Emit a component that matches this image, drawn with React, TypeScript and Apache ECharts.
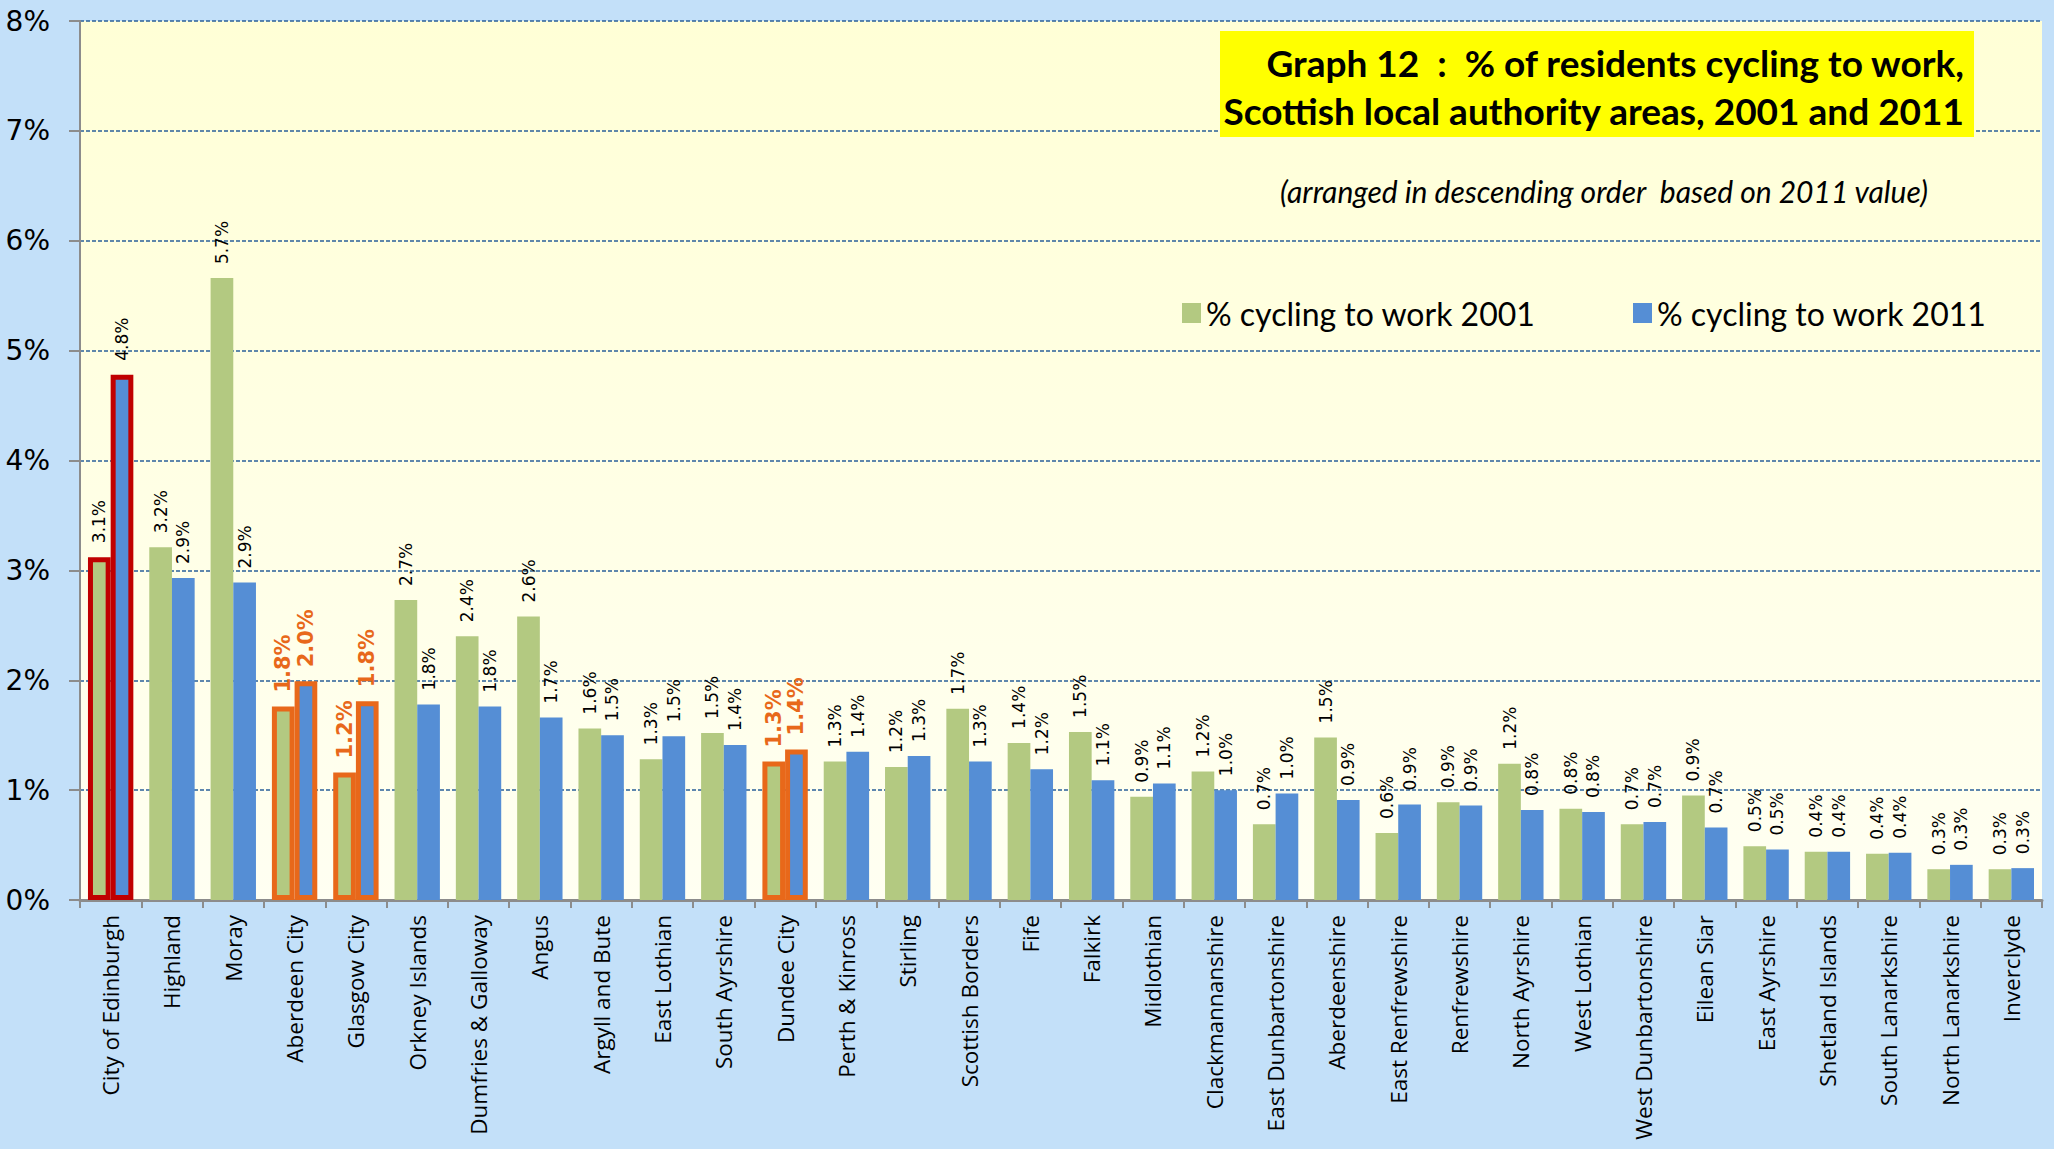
import React, { useEffect, useRef } from "react";
import * as echarts from "echarts";

const categories = [
  "City of Edinburgh", "Highland", "Moray", "Aberdeen City", "Glasgow City", "Orkney Islands",
  "Dumfries & Galloway", "Angus", "Argyll and Bute", "East Lothian", "South Ayrshire", "Dundee City",
  "Perth & Kinross", "Stirling", "Scottish Borders", "Fife", "Falkirk", "Midlothian",
  "Clackmannanshire", "East Dunbartonshire", "Aberdeenshire", "East Renfrewshire", "Renfrewshire",
  "North Ayrshire", "West Lothian", "West Dunbartonshire", "Eilean Siar", "East Ayrshire",
  "Shetland Islands", "South Lanarkshire", "North Lanarkshire", "Inverclyde",
];

const values2001 = [
  3.12, 3.21, 5.66, 1.76, 1.16, 2.73, 2.40, 2.58, 1.56, 1.28, 1.52, 1.26, 1.26, 1.21, 1.74, 1.43,
  1.53, 0.94, 1.17, 0.69, 1.48, 0.61, 0.89, 1.24, 0.83, 0.69, 0.95, 0.49, 0.44, 0.42, 0.28, 0.28,
];

const values2011 = [
  4.78, 2.93, 2.89, 1.99, 1.81, 1.78, 1.76, 1.66, 1.50, 1.49, 1.41, 1.37, 1.35, 1.31, 1.26, 1.19,
  1.09, 1.06, 1.00, 0.97, 0.91, 0.87, 0.86, 0.82, 0.80, 0.71, 0.66, 0.46, 0.44, 0.43, 0.32, 0.29,
];

const yTicks = [0, 1, 2, 3, 4, 5, 6, 7, 8];

const seriesNames = ["% cycling to work 2001", "% cycling to work 2011"];
const redHighlight = ["City of Edinburgh"];
const orangeHighlight = ["Aberdeen City", "Glasgow City", "Dundee City"];

const titleLines = [
  "Graph 12  :  % of residents cycling to work,",
  "Scottish local authority areas, 2001 and 2011",
];
const subtitle = "(arranged in descending order  based on 2011 value)";

const GREEN = "#B3C981";
const BLUE = "#558ED5";
const RED = "#C00000";
const ORANGE = "#E8681A";

function buildData(values: number[]) {
  return values.map((v, i) => {
    const cat = categories[i];
    const item: any = { value: v };
    if (redHighlight.includes(cat)) {
      item.itemStyle = { borderColor: RED, borderWidth: 5 };
    } else if (orangeHighlight.includes(cat)) {
      item.itemStyle = { borderColor: ORANGE, borderWidth: 5 };
      item.label = { color: ORANGE, fontWeight: "bold", fontSize: 21 };
    }
    return item;
  });
}

export default function App() {
  const ref = useRef<HTMLDivElement>(null);

  useEffect(() => {
    if (!ref.current) return;
    const chart = echarts.init(ref.current, null, { renderer: "svg" });

    const labelCommon = {
      show: true,
      position: "top",
      rotate: 90,
      align: "left",
      verticalAlign: "middle",
      distance: 14,
      fontFamily: "DejaVu Sans",
      fontSize: 17,
      color: "#000",
      formatter: (p: any) => Number(p.value).toFixed(1) + "%",
    };

    const legendCommon = {
      top: 292,
      icon: "rect",
      itemWidth: 19,
      itemHeight: 20,
      itemGap: 14,
      textStyle: { fontFamily: "Lato", fontSize: 32, color: "#000" },
    };

    chart.setOption({
      animation: false,
      backgroundColor: "#C3E0F9",
      grid: {
        left: 80,
        top: 21,
        right: 12,
        bottom: 249,
        show: true,
        borderWidth: 0,
        containLabel: false,
        outerBoundsMode: "none",
        backgroundColor: new echarts.graphic.LinearGradient(0, 0, 0, 1, [
          { offset: 0, color: "#FFFFD6" },
          { offset: 1, color: "#FFFFF2" },
        ]),
      },
      legend: [
        { ...legendCommon, data: [seriesNames[0]], left: 1177 },
        { ...legendCommon, data: [seriesNames[1]], left: 1628 },
      ],
      xAxis: {
        type: "category",
        data: categories,
        axisLine: { show: true, lineStyle: { color: "#8C8C8C", width: 3 } },
        axisTick: { show: true, length: 8, lineStyle: { color: "#8C8C8C", width: 2 } },
        axisLabel: {
          rotate: 90,
          interval: 0,
          margin: 15,
          fontFamily: "Open Sans",
          fontSize: 22.5,
          color: "#000",
        },
      },
      yAxis: {
        type: "value",
        min: yTicks[0],
        max: yTicks[yTicks.length - 1],
        interval: 1,
        axisLine: { show: true, lineStyle: { color: "#8C8C8C", width: 2 } },
        axisTick: { show: true, length: 11, lineStyle: { color: "#8C8C8C", width: 2 } },
        axisLabel: {
          formatter: "{value}%",
          margin: 30,
          fontFamily: "DejaVu Sans",
          fontSize: 28,
          color: "#000",
        },
        splitLine: { show: true, lineStyle: { color: "#2A6099", width: 1.5, type: [4, 2] } },
      },
      series: [
        {
          name: seriesNames[0],
          type: "bar",
          data: buildData(values2001),
          itemStyle: { color: GREEN },
          barGap: "0%",
          barCategoryGap: "26%",
          label: labelCommon,
        },
        {
          name: seriesNames[1],
          type: "bar",
          data: buildData(values2011),
          itemStyle: { color: BLUE },
          barGap: "0%",
          barCategoryGap: "26%",
          label: labelCommon,
        },
      ],
      graphic: [
        {
          type: "rect",
          shape: { x: 1220, y: 31, width: 754, height: 106 },
          style: { fill: "#FFFF00" },
          z: 10,
        },
        {
          type: "text",
          z: 11,
          style: {
            text: titleLines[0],
            x: 1964,
            y: 62,
            textAlign: "right",
            textVerticalAlign: "middle",
            font: "bold 37px Lato",
            fill: "#000",
          },
        },
        {
          type: "text",
          z: 11,
          style: {
            text: titleLines[1],
            x: 1964,
            y: 110,
            textAlign: "right",
            textVerticalAlign: "middle",
            font: "bold 37px Lato",
            fill: "#000",
          },
        },
        {
          type: "text",
          z: 11,
          style: {
            text: subtitle,
            x: 1604,
            y: 191,
            textAlign: "center",
            textVerticalAlign: "middle",
            font: "italic 30px Lato",
            fill: "#000",
          },
        },
      ],
    });

    return () => chart.dispose();
  }, []);

  return (
    <div
      ref={ref}
      style={{ position: "fixed", left: 0, top: 0, width: 2054, height: 1149 }}
    />
  );
}
